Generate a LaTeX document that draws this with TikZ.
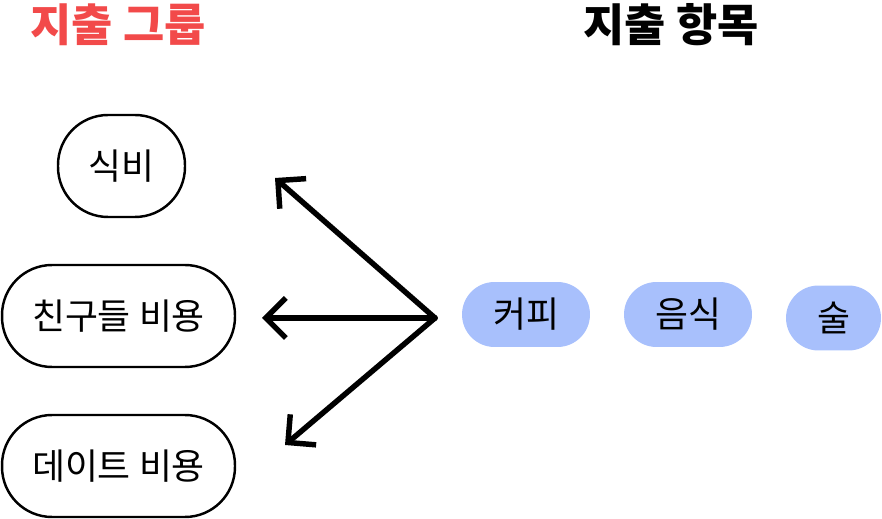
\documentclass[tikz,border=0pt]{standalone}
\usepackage{fontspec}
\setmainfont{Noto Sans CJK KR}
\usepackage{xcolor}
\usepackage{tikz}
\usetikzlibrary{arrows.meta, positioning}

\definecolor{titlered}{HTML}{F24A4A}
\definecolor{pillblue}{HTML}{A8C0FC}

\begin{document}
\begin{tikzpicture}[
    x=0.02cm, y=-0.02cm,
    title/.style={font=\fontsize{25.5}{30}\selectfont\bfseries, inner sep=0pt},
    group/.style={rectangle, draw, line width=1.4pt, rounded corners=1cm,
                  minimum width=#1, minimum height=2.04cm, inner sep=0pt,
                  font=\fontsize{20.4}{24}\selectfont},
    item/.style={rectangle, fill=pillblue, rounded corners=0.65cm,
                 minimum width=#1, minimum height=1.3cm, inner sep=0pt,
                 font=\fontsize{20.4}{24}\selectfont},
    pointer/.style={-{Straight Barb[length=0.4cm, width=0.8cm]},
                    line width=3.1pt, line cap=round, line join=round},
]
\useasboundingbox (0,0) rectangle (882,519);
\node[title, text=titlered] (t1) at (118,25) {지출 그룹};
\node[title] (t2) at (671,25) {지출 항목};
\node[group=2.54cm] (g1) at (121.5,166) {식비};
\node[group=4.66cm] (g2) at (118.5,316) {친구들 비용};
\node[group=4.66cm] (g3) at (118.5,466) {데이트 비용};
\node[item=2.56cm] (i1) at (526,314.5) {커피};
\node[item=2.56cm] (i2) at (688,314.5) {음식};
\node[item=1.9cm]  (i3) at (833.5,318) {술};
\coordinate (hub) at (435,318);
\coordinate (a1) at (275,178);
\coordinate (a2) at (262,318);
\coordinate (a3) at (285,445);
\draw[pointer] (hub) -- (a1);
\draw[pointer] (hub) -- (a2);
\draw[pointer] (hub) -- (a3);
\end{tikzpicture}
\end{document}
